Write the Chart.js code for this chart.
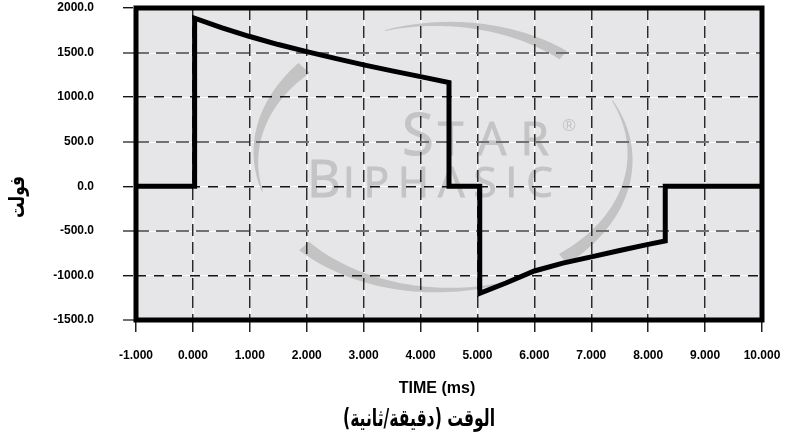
<!DOCTYPE html>
<html lang="ar">
<head>
<meta charset="UTF-8">
<title>STAR Biphasic</title>
<script src="https://cdn.jsdelivr.net/npm/chart.js"></script>
<style>
  body { margin: 0; background: #fff; }
  canvas { display: block; }
</style>
</head>
<body>
<canvas id="waveChart" width="785" height="444"></canvas>
<script>
// dalga şekli noktaları
const timeMs = [-1, 0.03, 0.03, 0.5, 1, 1.5, 2, 2.5, 3, 3.5, 4, 4.5, 4.5, 5.04, 5.04, 5.5, 6, 6.5, 7, 7.5, 8, 8.3, 8.3, 10];
const voltage = [0, 0, 1885, 1780, 1680, 1590, 1510, 1435, 1362, 1295, 1230, 1165, 0, 0, -1200, -1085, -950, -862, -792, -720, -652, -614, 0, 0];

// eksen aralıkları
const xRange = [-1, 10];
const yRange = [-1500, 2000];
const xStep = 1;
const yStep = 500;

const xTitle = 'TIME (ms)';
const xTitleAr = 'الوقت (دقيقة/ثانية)';
const yTitle = 'فولت';

const tickFont = { family: "'Liberation Sans', Arial, sans-serif", size: 12, weight: 'bold' };

// arka plan + filigran
const backdrop = {
    id: 'backdrop',
    beforeDraw(chart) {
        const { ctx, chartArea: a, scales } = chart;
        const w = a.right - a.left, h = a.bottom - a.top;
        ctx.save();
        ctx.fillStyle = '#e6e6e8';
        ctx.fillRect(a.left, a.top, w, h);

        // ince beyaz çizgiler
        ctx.strokeStyle = 'rgba(255,255,255,0.9)';
        ctx.lineWidth = 1;
        scales.x.ticks.forEach(t => {
            const px = Math.round(scales.x.getPixelForValue(t.value)) + 0.5;
            ctx.beginPath(); ctx.moveTo(px, a.top); ctx.lineTo(px, a.bottom); ctx.stroke();
        });
        scales.y.ticks.forEach(t => {
            const py = Math.round(scales.y.getPixelForValue(t.value)) + 0.5;
            ctx.beginPath(); ctx.moveTo(a.left, py); ctx.lineTo(a.right, py); ctx.stroke();
        });

        // yaylar
        const cx = a.left + 307, cy = a.top + 149, rx = 187, ry = 133;
        const arcs = [[-108, -50, 1, 11], [-25, 50, 1, 13], [70, 138, 1, 13], [165, 222, 1, 15]];
        ctx.fillStyle = '#c3c3c4';
        arcs.forEach(([t0, t1, w0, w1]) => {
            const n = 40, outer = [], inner = [];
            for (let i = 0; i <= n; i++) {
                const f = i / n;
                const t = (t0 + (t1 - t0) * f) * Math.PI / 180;
                const hw = (w0 + (w1 - w0) * f) / 2;
                outer.push([cx + (rx + hw) * Math.cos(t), cy + (ry + hw) * Math.sin(t)]);
                inner.push([cx + (rx - hw) * Math.cos(t), cy + (ry - hw) * Math.sin(t)]);
            }
            ctx.beginPath();
            outer.forEach(([px, py], i) => i ? ctx.lineTo(px, py) : ctx.moveTo(px, py));
            inner.reverse().forEach(([px, py]) => ctx.lineTo(px, py));
            ctx.closePath();
            ctx.fill();
        });

        // STAR BIPHASIC yazısı
        ctx.fillStyle = '#c4c4c5';
        ctx.strokeStyle = '#c4c4c5';
        ctx.lineWidth = 1;
        ctx.textBaseline = 'alphabetic';
        ctx.textAlign = 'left';
        const fam = "'Open Sans', 'Lato', sans-serif";
        const mark = (txt, x, y, font, sp) => {
            ctx.font = font;
            ctx.letterSpacing = sp;
            ctx.fillText(txt, x, y);
            ctx.strokeText(txt, x, y);
        };
        mark('S', a.left + 266, a.top + 147, `400 58px ${fam}`, '0px');
        mark('TAR', a.left + 302, a.top + 147, `400 46px ${fam}`, '14px');
        mark('B', a.left + 171, a.top + 189, `400 52px ${fam}`, '0px');
        mark('IPHASIC', a.left + 207, a.top + 189, `400 42px ${fam}`, '9px');
        ctx.letterSpacing = '0px';
        ctx.font = `400 17px ${fam}`;
        ctx.textAlign = 'center';
        ctx.textBaseline = 'middle';
        ctx.fillText('®', a.left + 433, a.top + 118);
        ctx.restore();
    }
};

// çerçeve ve başlıklar
const frame = {
    id: 'frame',
    afterDatasetsDraw(chart) {
        const { ctx, chartArea: a } = chart;
        ctx.save();
        ctx.strokeStyle = '#000';
        ctx.lineWidth = 5;
        ctx.strokeRect(a.left, a.top, a.right - a.left, a.bottom - a.top);
        ctx.restore();
    },
    afterDraw(chart) {
        const { ctx, chartArea: a } = chart;
        ctx.save();
        ctx.fillStyle = '#000';
        ctx.textAlign = 'center';
        ctx.textBaseline = 'middle';
        ctx.font = "bold 16px 'Liberation Sans', Arial, sans-serif";
        ctx.fillText(xTitle, 437, a.bottom + 69);

        // arapça başlık, yatay olarak sıkıştırılmış
        ctx.save();
        ctx.direction = 'rtl';
        ctx.font = "bold 24px 'DejaVu Sans', sans-serif";
        const sx = 152 / ctx.measureText(xTitleAr).width;
        ctx.translate(419, a.bottom + 100);
        ctx.scale(sx, 1);
        ctx.fillText(xTitleAr, 0, 0);
        ctx.restore();

        // dikey başlık
        ctx.direction = 'rtl';
        ctx.translate(19, 197);
        ctx.rotate(-Math.PI / 2);
        ctx.font = "bold 21px 'DejaVu Sans', sans-serif";
        const sy = 42 / ctx.measureText(yTitle).width;
        ctx.scale(sy, 1);
        ctx.fillText(yTitle, 0, 0);
        ctx.restore();
    }
};

const ctx = document.getElementById('waveChart').getContext('2d');
new Chart(ctx, {
    type: 'line',
    data: {
        datasets: [{
            data: timeMs.map((t, i) => ({ x: t, y: voltage[i] })),
            borderColor: '#000',
            borderWidth: 5,
            borderJoinStyle: 'miter',
            pointRadius: 0,
            tension: 0,
            fill: false
        }]
    },
    options: {
        responsive: false,
        animation: false,
        layout: { padding: { top: 8, right: 23, left: 0, bottom: 0 } },
        plugins: { legend: { display: false }, tooltip: { enabled: false } },
        scales: {
            x: {
                type: 'linear',
                min: xRange[0],
                max: xRange[1],
                afterFit: s => {
                    s.height = 124;
                    s.paddingLeft = 0;
                    s.paddingRight = 0;
                },
                ticks: {
                    stepSize: xStep,
                    font: tickFont,
                    color: '#000',
                    padding: 16,
                    maxRotation: 0,
                    callback: v => v.toFixed(3)
                },
                grid: {
                    color: '#2a2a2a',
                    lineWidth: 1.5,
                    tickLength: 12,
                    tickColor: '#222',
                    tickWidth: 1.5,
                    tickBorderDash: []
                },
                border: { display: false, dash: [12, 6] }
            },
            y: {
                min: yRange[0],
                max: yRange[1],
                afterFit: s => {
                    s.width = 136;
                    s.paddingTop = 0;
                    s.paddingBottom = 0;
                },
                ticks: {
                    stepSize: yStep,
                    font: tickFont,
                    color: '#000',
                    padding: 29,
                    callback: v => v.toFixed(1)
                },
                grid: {
                    color: c => c.tick.value % 1000 === 0 ? '#151515' : '#707070',
                    lineWidth: c => c.tick.value % 1000 === 0 ? 1.4 : 2,
                    tickLength: 13,
                    tickColor: c => c.tick.value % 1000 === 0 ? '#151515' : '#707070',
                    tickWidth: c => c.tick.value % 1000 === 0 ? 1.4 : 2,
                    tickBorderDash: c => c.tick.value % 1000 === 0 ? [10, 8] : [13, 7]
                },
                border: { display: false, dash: c => c.tick.value % 1000 === 0 ? [10, 8] : [13, 7] }
            }
        }
    },
    plugins: [backdrop, frame]
});
</script>
</body>
</html>
